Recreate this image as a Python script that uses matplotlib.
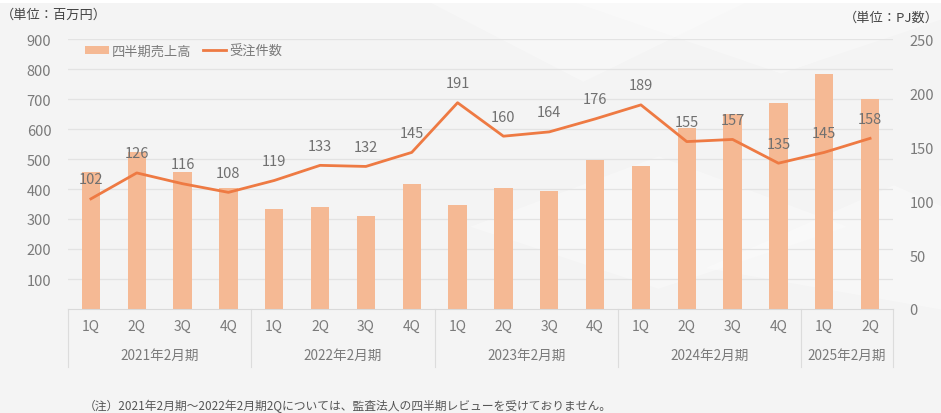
import matplotlib
matplotlib.use("Agg")
import matplotlib.pyplot as plt
import matplotlib.transforms as mtransforms
from matplotlib.patches import Patch, Polygon
from matplotlib.lines import Line2D

plt.rcParams['font.family'] = ['Noto Sans CJK JP', 'DejaVu Sans']

# ---------------------------------------------------------------------
# Data
# ---------------------------------------------------------------------
quarters = ["1Q", "2Q", "3Q", "4Q",
            "1Q", "2Q", "3Q", "4Q",
            "1Q", "2Q", "3Q", "4Q",
            "1Q", "2Q", "3Q", "4Q",
            "1Q", "2Q"]
years = ["2021年2月期", "2022年2月期", "2023年2月期", "2024年2月期", "2025年2月期"]
year_sizes = [4, 4, 4, 4, 2]

sales = [456, 522, 456, 405, 335, 341, 311, 417,
         347, 404, 393, 498, 476, 602, 650, 687, 784, 701]
orders = [102, 126, 116, 108, 119, 133, 132, 145,
          191, 160, 164, 176, 189, 155, 157, 135, 145, 158]

BAR_COLOR = "#F5B994"
LINE_COLOR = "#EE7A43"
TEXT_COLOR = "#7a7a7a"
BG = "#f4f4f4"

# ---------------------------------------------------------------------
# Figure
# ---------------------------------------------------------------------
fig = plt.figure(figsize=(9.41, 4.14), dpi=100, facecolor=BG)

# faint decorative background shapes (behind the axes)
deco = [
    [(0.45, 1.0), (0.62, 0.80), (0.80, 1.0)],
    [(0.60, 1.0), (0.83, 0.82), (1.0, 0.95), (1.0, 1.0)],
    [(0.50, 0.45), (0.70, 0.62), (0.90, 0.45), (0.70, 0.30)],
    [(0.75, 0.35), (0.95, 0.55), (1.0, 0.50), (1.0, 0.25)],
]
for pts in deco:
    fig.patches.append(Polygon(pts, closed=True, transform=fig.transFigure,
                               facecolor="white", edgecolor="none", alpha=0.3,
                               zorder=-2))
fig.patches.append(Polygon([(0, 1), (1, 1), (1, 0.99), (0, 0.99)], closed=True,
                           transform=fig.transFigure, facecolor="white",
                           edgecolor="none", zorder=-2))

ax = fig.add_axes([68 / 941, 1 - 310 / 414, 825 / 941, 270 / 414])
ax.set_facecolor("none")
ax2 = ax.twinx()

x = list(range(len(quarters)))
ax.bar(x, sales, width=0.4, color=BAR_COLOR, zorder=2)
ax.set_xlim(-0.5, len(quarters) - 0.5)
ax.set_ylim(0, 900)
ax.set_yticks(range(100, 1000, 100))
ax.grid(axis="y", color="#e3e3e3", linewidth=0.9, zorder=0)
ax.set_axisbelow(True)

ax2.plot(x, orders, color=LINE_COLOR, linewidth=2.0, zorder=3)
ax2.set_ylim(0, 250)
ax2.set_yticks(range(0, 300, 50))
for xi, v in zip(x, orders):
    ax2.annotate(str(v), (xi, v), xytext=(0, 14), textcoords="offset points",
                 ha="center", va="center", fontsize=10.5, color="#707070")

for a in (ax, ax2):
    for s in a.spines.values():
        s.set_visible(False)
ax.spines["bottom"].set_visible(True)
ax.spines["bottom"].set_color("#d9d9d9")

ax.tick_params(axis="y", length=0, pad=12, labelsize=10.5, labelcolor=TEXT_COLOR)
ax2.tick_params(axis="y", length=0, pad=12, labelsize=10.5, labelcolor=TEXT_COLOR)
ax.set_xticks(x)
ax.set_xticklabels(quarters)
ax.tick_params(axis="x", length=0, pad=7, labelsize=10, labelcolor=TEXT_COLOR)

# year group separators and labels
trans = mtransforms.blended_transform_factory(ax.transData, ax.transAxes)
edges = [-0.5]
for n in year_sizes:
    edges.append(edges[-1] + n)
for e in edges:
    ax.plot([e, e], [0, -58 / 270], transform=trans, color="#dcdcdc",
            linewidth=0.8, clip_on=False)
for i, yr in enumerate(years):
    mid = (edges[i] + edges[i + 1]) / 2
    ax.text(mid, -46 / 270, yr, transform=trans, ha="center", va="center",
            fontsize=9.8, color=TEXT_COLOR)

# legend
handles = [Patch(facecolor=BAR_COLOR, edgecolor="none"),
           Line2D([0], [0], color=LINE_COLOR, linewidth=2.0)]
fig.legend(handles, ["四半期売上高", "受注件数"], loc="center left",
           bbox_to_anchor=(73 / 941, 1 - 52 / 414), ncol=2, frameon=False,
           fontsize=9.5, labelcolor=TEXT_COLOR, handlelength=1.8,
           handleheight=0.6, handletextpad=0.2, columnspacing=0.9)

# unit labels and note
fig.text(1 / 941, 1 - 15 / 414, "（単位：百万円）", ha="left", va="center",
         fontsize=9.5, color="#444444")
fig.text(939 / 941, 1 - 18 / 414, "（単位：PJ数）", ha="right", va="center",
         fontsize=9.5, color="#444444")
fig.text(84 / 941, 1 - 406 / 414,
         "（注）2021年2月期～2022年2月期2Qについては、監査法人の四半期レビューを受けておりません。",
         ha="left", va="center", fontsize=8.5, color="#555555")

fig.savefig("out.png", dpi=100, facecolor=BG)
